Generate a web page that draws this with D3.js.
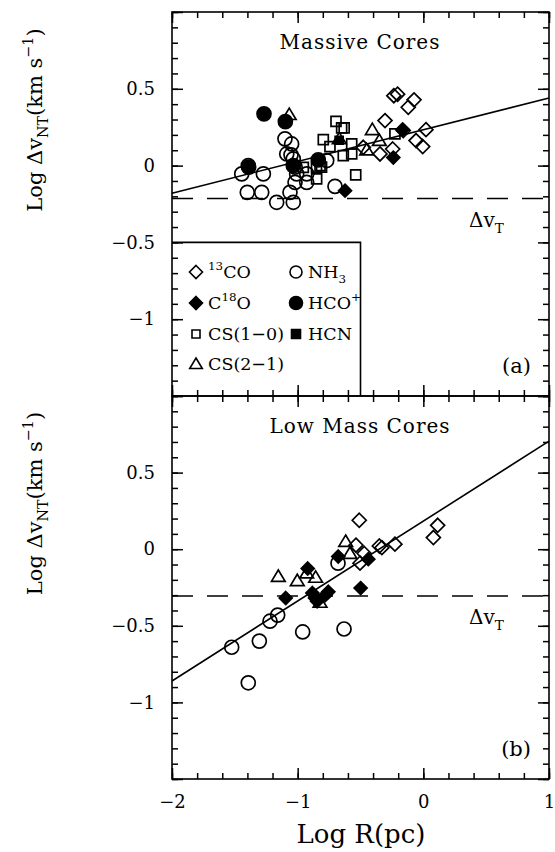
<!DOCTYPE html>
<html>
<head>
<meta charset="utf-8">
<script src="https://cdn.jsdelivr.net/npm/d3@7"></script>
<style>
  body { margin: 0; background: #fff; }
  text { font-family: "DejaVu Serif", serif; fill: #000; }
</style>
</head>
<body>
<script>
// values: [log R (pc), log dv_NT (km/s)]
var massive13CO = [[-0.235, 0.455], [-0.205, 0.465], [-0.074, 0.428], [-0.12, 0.38], [-0.305, 0.293],
  [-0.16, 0.228], [0.021, 0.234], [-0.058, 0.163], [-0.005, 0.124], [-0.244, 0.108], [-0.345, 0.076], [-0.478, 0.119]];
var massiveC18O = [[-0.623, -0.163], [-0.239, 0.052], [-0.165, 0.235]];
var massiveCS10 = [[-0.695, 0.288], [-0.65, 0.245], [-0.63, 0.245], [-0.796, 0.169], [-0.743, 0.124], [-0.57, 0.141],
  [-0.57, 0.076], [-0.637, 0.065], [-0.538, -0.061], [-0.226, 0.206], [-0.955, -0.011], [-0.822, 0.0],
  [-0.849, -0.087], [-0.85, -0.01], [-0.81, -0.01]];
var massiveCS21 = [[-1.067, 0.332], [-0.669, 0.174], [-0.406, 0.234], [-0.35, 0.163], [-0.451, 0.102]];
var massiveNH3 = [[-1.445, -0.054], [-1.393, 0.0], [-1.273, -0.054], [-1.401, -0.174], [-1.286, -0.174],
  [-1.167, -0.239], [-1.035, -0.239], [-1.061, -0.174], [-1.021, -0.109], [-0.928, -0.109], [-1.008, -0.054],
  [-1.101, 0.174], [-1.048, 0.141], [-1.087, 0.076], [-1.053, 0.07], [-1.035, 0.044], [-0.928, -0.054],
  [-0.769, 0.033], [-0.703, -0.135], [-1.02, -0.01]];
var massiveHCO = [[-1.268, 0.337], [-1.098, 0.286], [-0.836, 0.037], [-1.39, -0.01], [-1.035, 0.0]];
var massiveHCN = [[-0.67, 0.165]];

var low13CO = [[-0.51, 0.189], [-0.536, 0.026], [-0.47, -0.028], [-0.504, -0.091], [-0.35, 0.021],
  [-0.33, 0.01], [-0.226, 0.033], [0.08, 0.076], [0.114, 0.156]];
var lowC18O = [[-0.438, -0.065], [-0.677, -0.048], [-0.499, -0.254], [-0.92, -0.126], [-1.095, -0.319],
  [-0.883, -0.286], [-0.862, -0.319], [-0.845, -0.34], [-0.756, -0.278], [-0.78, -0.3]];
var lowCS21 = [[-0.618, 0.05], [-0.584, -0.028], [-1.154, -0.178], [-1.003, -0.206], [-0.928, -0.156],
  [-0.857, -0.184], [-0.822, -0.347]];
var lowNH3 = [[-1.159, -0.43], [-1.22, -0.47], [-1.525, -0.64], [-1.305, -0.6], [-0.96, -0.54],
  [-1.393, -0.872], [-0.631, -0.521], [-0.679, -0.091]];

var massiveFit = [[-2, -0.18], [1, 0.44]];
var lowFit = [[-2, -0.86], [1, 0.705]];
var massiveThermal = -0.215;
var lowThermal = -0.306;

var xMajor = [-2, -1, 0, 1];
var xMinor = d3.range(0, 16).map(function (i) { return -2 + i * 0.2; });
var yMajor = [-1.5, -1, -0.5, 0, 0.5, 1];
var yLabels = [-1, -0.5, 0, 0.5];
var yMinor = d3.range(0, 26).map(function (i) { return -1.5 + i * 0.1; });

var w = 555, h = 852;
var svg = d3.select("body").append("svg").attr("width", w).attr("height", h);

var x = d3.scaleLinear().domain([-2, 1]).range([172, 549]);
var yTop = d3.scaleLinear().domain([-1.5, 1]).range([396, 12]);
var yBot = d3.scaleLinear().domain([-1.5, 1]).range([779, 396]);

function symbolPath(type, s) {
  if (type == "diamond") return "M0," + (-s) + "L" + s + ",0L0," + s + "L" + (-s) + ",0Z";
  if (type == "square") return "M" + (-s) + "," + (-s) + "h" + 2 * s + "v" + 2 * s + "h" + (-2 * s) + "Z";
  if (type == "triangle") return "M0," + (-s) + "L" + (s * 1.05) + "," + (s * 0.75) + "L" + (-s * 1.05) + "," + (s * 0.75) + "Z";
  return d3.symbol(d3.symbolCircle, Math.PI * s * s)();
}

// text with sub/superscripts, parts = [[string, "sup"|"sub"|null], ...]
function richText(sel, parts, size) {
  var shift = 0;
  parts.forEach(function (p) {
    var target = p[1] == "sup" ? -0.45 * size : (p[1] == "sub" ? 0.3 * size : 0);
    var t = sel.append("tspan").text(p[0]).attr("dy", target - shift);
    if (p[1]) t.attr("font-size", size * 0.68);
    shift = target;
  });
  return sel;
}

function styleAxis(g) {
  g.select(".domain").remove();
  g.selectAll("line").attr("stroke", "#000").attr("stroke-width", 1.5);
  g.selectAll("text").attr("font-family", "DejaVu Serif").attr("font-size", 18).attr("fill", "#000");
}

function drawPanel(y, series, fit, thermal, title, tag, xLabels) {
  var g = svg.append("g");
  var top = y.range()[1], bottom = y.range()[0];

  // ticks on all four sides, pointing inward
  g.append("g").attr("transform", "translate(" + x(-2) + ",0)")
    .call(d3.axisLeft(y).tickValues(yMinor).tickSize(-6).tickFormat("")).call(styleAxis);
  g.append("g").attr("transform", "translate(" + x(-2) + ",0)")
    .call(d3.axisLeft(y).tickValues(yMajor).tickSize(-11).tickPadding(17)
      .tickFormat(function (d) { return yLabels.indexOf(d) >= 0 ? d3.format("~g")(d) : ""; }))
    .call(styleAxis);
  g.append("g").attr("transform", "translate(" + x(1) + ",0)")
    .call(d3.axisRight(y).tickValues(yMinor).tickSize(-6).tickFormat("")).call(styleAxis);
  g.append("g").attr("transform", "translate(" + x(1) + ",0)")
    .call(d3.axisRight(y).tickValues(yMajor).tickSize(-11).tickFormat("")).call(styleAxis);

  g.append("g").attr("transform", "translate(0," + top + ")")
    .call(d3.axisTop(x).tickValues(xMinor).tickSize(-6).tickFormat("")).call(styleAxis);
  g.append("g").attr("transform", "translate(0," + top + ")")
    .call(d3.axisTop(x).tickValues(xMajor).tickSize(-11).tickFormat("")).call(styleAxis);
  g.append("g").attr("transform", "translate(0," + bottom + ")")
    .call(d3.axisBottom(x).tickValues(xMinor).tickSize(-6).tickFormat("")).call(styleAxis);
  g.append("g").attr("transform", "translate(0," + bottom + ")")
    .call(d3.axisBottom(x).tickValues(xMajor).tickSize(-11).tickPadding(16)
      .tickFormat(xLabels ? d3.format("~g") : "")).call(styleAxis);

  g.append("rect")
    .attr("x", x(-2)).attr("y", top)
    .attr("width", x(1) - x(-2)).attr("height", bottom - top)
    .attr("fill", "none").attr("stroke", "#000").attr("stroke-width", 1.6);

  // thermal line width
  g.append("line")
    .attr("x1", x(-2)).attr("x2", x(1))
    .attr("y1", y(thermal)).attr("y2", y(thermal))
    .attr("stroke", "#000").attr("stroke-width", 1.5).attr("stroke-dasharray", "21,14");

  // fit
  g.append("path")
    .attr("d", d3.line().x(function (d) { return x(d[0]); }).y(function (d) { return y(d[1]); })(fit))
    .attr("fill", "none").attr("stroke", "#000").attr("stroke-width", 1.6);

  series.forEach(function (s) {
    g.append("g").selectAll("path").data(s.data).enter().append("path")
      .attr("transform", function (d) { return "translate(" + x(d[0]) + "," + y(d[1]) + ")"; })
      .attr("d", symbolPath(s.type, s.size))
      .attr("fill", s.filled ? "#000" : "none")
      .attr("stroke", "#000").attr("stroke-width", 1.7);
  });

  g.append("text").attr("x", 360).attr("y", top + 37)
    .attr("text-anchor", "middle").attr("font-size", 20).attr("letter-spacing", 1)
    .text(title);

  g.append("text").attr("x", 531).attr("y", y(-1.5) - 23)
    .attr("text-anchor", "end").attr("font-size", 21).text(tag);

  richText(g.append("text").attr("x", 469).attr("y", y(thermal) + 28).attr("font-size", 20),
    [["Δv", null], ["T", "sub"]], 20);

  // y axis title
  richText(g.append("text")
    .attr("transform", "translate(42," + (y(-0.25) - 84) + ") rotate(-90)")
    .attr("text-anchor", "middle").attr("font-family", "Liberation Serif").attr("font-size", 21),
    [["Log Δv", null], ["NT", "sub"], ["(km s", null], ["−1", "sup"], [")", null]], 21);

  return g;
}

drawPanel(yTop, [
  {data: massiveNH3, type: "circle", size: 7, filled: false},
  {data: massiveCS10, type: "square", size: 5, filled: false},
  {data: massive13CO, type: "diamond", size: 7, filled: false},
  {data: massiveCS21, type: "triangle", size: 6.5, filled: false},
  {data: massiveHCN, type: "square", size: 4, filled: true},
  {data: massiveHCO, type: "circle", size: 7, filled: true},
  {data: massiveC18O, type: "diamond", size: 6.5, filled: true}
], massiveFit, massiveThermal, "Massive Cores", "(a)", false);

drawPanel(yBot, [
  {data: lowNH3, type: "circle", size: 7, filled: false},
  {data: low13CO, type: "diamond", size: 7, filled: false},
  {data: lowCS21, type: "triangle", size: 6.5, filled: false},
  {data: lowC18O, type: "diamond", size: 6.5, filled: true}
], lowFit, lowThermal, "Low Mass Cores", "(b)", true);

// legend box in panel (a)
var legendKeys = [
  {type: "diamond", filled: false, size: 6.5, col: 0, row: 0, label: [["13", "sup"], ["CO", null]]},
  {type: "circle", filled: false, size: 6, col: 1, row: 0, label: [["NH", null], ["3", "sub"]]},
  {type: "diamond", filled: true, size: 6.5, col: 0, row: 1, label: [["C", null], ["18", "sup"], ["O", null]]},
  {type: "circle", filled: true, size: 6.5, col: 1, row: 1, label: [["HCO", null], ["+", "sup"]]},
  {type: "square", filled: false, size: 4, col: 0, row: 2, label: [["CS(1−0)", null]]},
  {type: "square", filled: true, size: 4.5, col: 1, row: 2, label: [["HCN", null]]},
  {type: "triangle", filled: false, size: 6, col: 0, row: 3, label: [["CS(2−1)", null]]}
];
var legendCols = [196, 296];
var legendRows = [272, 303, 334, 364];

var legend = svg.append("g");
legend.append("path")
  .attr("d", "M" + x(-2) + "," + yTop(-0.5) + "H" + x(-0.5) + "V" + yTop(-1.5))
  .attr("fill", "none").attr("stroke", "#000").attr("stroke-width", 1.6);

legendKeys.forEach(function (k) {
  var cx = legendCols[k.col], cy = legendRows[k.row];
  legend.append("path")
    .attr("transform", "translate(" + cx + "," + cy + ")")
    .attr("d", symbolPath(k.type, k.size))
    .attr("fill", k.filled ? "#000" : "none")
    .attr("stroke", "#000").attr("stroke-width", 1.6);
  richText(legend.append("text").attr("x", cx + 12).attr("y", cy + 6).attr("font-size", 17.5), k.label, 17.5);
});

// x axis title
svg.append("text").attr("x", 361).attr("y", 843)
  .attr("text-anchor", "middle").attr("font-size", 26).text("Log R(pc)");
</script>
</body>
</html>
